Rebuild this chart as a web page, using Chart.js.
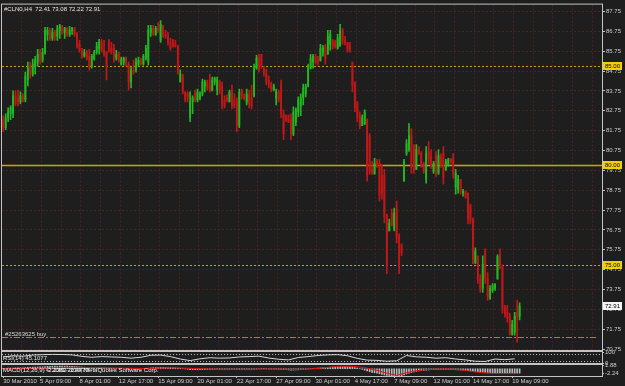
<!DOCTYPE html>
<html>
<head>
<meta charset="utf-8">
<script src="https://cdn.jsdelivr.net/npm/chart.js@4.4.0/dist/chart.umd.min.js"></script>
<style>
  html, body { margin: 0; padding: 0; background: #1e1e1e; }
  #wrap { position: relative; width: 625px; height: 386px; overflow: hidden; background: #1e1e1e; }
  #wrap canvas { position: absolute; left: 0; top: 0; }
</style>
</head>
<body>
<div id="wrap">
  <canvas id="priceChart" width="625" height="386"></canvas>
  <canvas id="rsiChart" width="625" height="386"></canvas>
  <canvas id="macdChart" width="625" height="386"></canvas>
</div>
<script>
// #CLN0 H4 bars, oldest first
const opens = [
  82.3,81.9,82.4,82.6,82.6,83.5,83.4,83.2,83.5,83.3, 84.3,85.0,84.6,85.0,85.2,85.7,85.3,85.7,86.6,86.8,
  86.4,86.7,86.5,86.8,87.0,86.7,86.9,86.6,86.8,86.9, 86.6,86.1,85.8,85.5,85.7,85.5,85.0,85.4,85.7,85.9,
  86.2,85.8,85.7,86.3,85.9,85.9,85.4,85.6,85.1,85.2, 85.4,85.1,84.2,84.8,84.8,85.1,85.3,85.1,85.4,85.2,
  86.7,86.9,86.6,86.9,86.3,87.0,86.6,86.5,86.2,86.3, 86.1,86.0,84.2,84.5,83.7,83.6,82.4,83.2,83.6,83.3,
  83.4,83.6,84.0,84.2,84.0,83.8,84.2,83.8,84.2,84.0, 83.3,83.4,83.2,83.8,83.3,83.3,82.0,83.8,83.5,83.2,
  83.6,83.4,83.5,84.9,85.4,85.6,84.9,84.6,84.3,84.1, 83.8,83.4,83.7,84.1,82.6,82.5,82.5,82.3,81.6,82.2,
  82.7,83.0,83.4,83.6,84.0,84.9,85.2,85.5,85.3,85.3, 85.7,86.0,85.6,86.1,86.3,86.2,85.9,86.0,86.8,86.3,
  86.2,86.0,85.2,84.2,83.2,82.5,82.0,82.1,82.3,81.5, 79.8,79.6,80.2,80.1,79.5,79.5,77.5,76.7,77.6,76.8,
  77.8,76.5,76.0,79.2,80.6,80.8,81.5,80.9,79.8,80.9, 80.6,80.1,79.3,80.7,80.4,79.7,80.5,79.6,80.4,80.6,
  79.8,80.0,80.3,80.3,78.9,78.8,79.3,78.6,78.7,78.6, 78.0,77.3,75.1,75.4,74.3,73.8,75.7,74.3,73.3,73.7,
  73.8,74.3,75.5,74.9,72.9,72.6,72.4,71.5,71.6,72.6, 72.41
];
const highs = [
  82.5,82.6,82.9,83.0,83.75,83.75,83.8,83.7,83.6,84.7, 85.2,85.2,85.35,85.5,85.85,85.85,85.9,86.95,86.95,86.9,
  86.9,86.8,87.05,87.1,87.05,86.95,86.95,87.0,86.95,86.95, 86.7,86.3,85.9,85.85,85.8,85.85,85.6,85.8,86.2,86.35,
  86.35,86.3,85.75,86.35,86.2,86.1,85.8,85.7,85.45,85.45, 85.45,85.2,85.0,85.3,85.4,85.45,85.4,85.6,86.05,87.05,
  87.05,87.05,87.0,87.2,87.3,87.05,86.8,86.7,86.4,86.35, 86.3,86.05,84.8,84.6,83.7,83.7,83.7,83.5,83.8,83.85,
  83.7,84.35,84.3,84.3,84.6,84.45,84.45,84.45,84.3,84.2, 83.5,83.55,83.8,84.05,83.6,83.4,83.85,83.85,83.6,83.85,
  83.8,84.05,85.1,85.55,85.6,85.6,85.0,84.85,84.5,84.2, 84.1,83.85,83.8,84.3,82.8,82.55,82.55,82.6,82.95,82.9,
  83.45,83.6,84.1,84.1,85.1,85.6,85.6,85.6,85.5,86.1, 86.05,86.1,86.8,86.8,86.35,86.3,86.6,87.1,86.9,86.5,
  86.2,86.2,85.2,84.2,83.2,82.7,82.55,82.8,82.35,81.6, 80.2,80.35,80.3,80.3,80.05,79.8,77.55,77.3,77.8,77.85,
  78.2,76.55,76.05,80.3,81.3,82.1,81.85,81.05,81.05,80.95, 80.7,80.15,80.95,81.2,80.8,80.2,80.7,80.8,80.6,80.95,
  80.3,80.35,80.35,80.6,79.8,79.5,79.3,78.8,78.7,78.6, 78.05,77.35,75.85,75.45,74.5,75.45,75.8,74.6,73.95,74.05,
  74.05,75.5,75.8,75.0,72.95,72.95,72.55,72.2,72.6,73.2, 73.08
];
const lows = [
  81.7,81.8,82.2,82.3,82.4,83.0,83.0,83.1,83.2,83.2, 84.0,84.4,84.5,84.6,85.0,85.1,85.2,85.6,86.3,86.3,
  86.3,86.3,86.3,86.4,86.6,86.4,86.5,86.5,86.6,86.5, 85.9,85.7,85.4,85.45,85.3,84.8,84.9,85.3,85.6,85.6,
  85.7,85.5,84.3,85.7,85.6,85.2,85.3,85.2,85.05,85.05, 85.0,83.8,83.9,84.6,84.7,85.0,85.05,85.05,85.3,85.05,
  86.5,86.55,86.55,86.7,86.2,86.45,86.4,86.05,85.8,85.95, 85.95,84.6,84.2,83.6,83.2,83.2,82.2,82.6,83.2,83.2,
  83.3,83.5,83.7,83.8,83.7,83.75,84.05,83.55,83.6,82.85, 82.9,83.2,83.2,82.85,82.9,81.7,81.9,83.35,83.3,83.05,
  82.9,82.85,83.45,84.85,84.7,84.9,84.5,84.05,83.9,83.7, 83.75,83.05,83.2,82.4,81.3,82.2,82.15,81.3,81.5,82.0,
  82.45,82.5,83.05,83.45,83.95,84.85,84.9,85.1,85.05,85.25, 85.5,85.1,85.6,85.8,85.85,85.9,85.85,86.0,86.1,86.05,
  85.7,85.7,83.7,82.7,82.2,81.85,82.0,82.05,79.2,79.55, 79.55,79.55,79.9,78.2,78.3,77.1,74.55,76.7,76.95,76.7,
  76.1,74.55,75.45,79.2,80.5,80.7,79.6,79.6,79.8,80.55, 79.9,79.6,79.1,80.1,79.85,79.6,79.45,79.55,79.9,79.05,
  79.75,79.95,80.1,79.35,78.55,78.6,78.55,78.45,78.35,77.05, 77.05,75.05,75.05,74.05,73.6,73.6,74.05,73.2,73.25,73.6,
  73.7,74.25,74.8,72.55,72.35,72.1,71.45,71.45,71.45,71.1, 72.22
];
const closes = [
  81.9,82.4,82.7,82.9,83.5,83.1,83.2,83.5,83.3,84.5, 84.9,84.6,85.1,85.3,85.6,85.3,85.7,86.8,86.8,86.4,
  86.7,86.5,86.9,87.0,86.7,86.9,86.6,86.8,86.9,86.6, 86.0,85.8,85.5,85.7,85.4,85.0,85.5,85.7,86.0,86.2,
  85.8,85.6,85.0,85.8,85.7,85.4,85.6,85.3,85.35,85.4, 85.1,84.2,84.8,84.7,85.2,85.3,85.1,85.5,85.9,86.8,
  86.9,86.6,86.9,86.8,87.1,86.6,86.5,86.2,85.9,86.0, 86.0,84.8,84.6,83.7,83.3,83.4,83.2,83.4,83.3,83.7,
  83.6,84.2,84.2,83.9,83.8,84.3,84.4,84.3,83.8,83.1, 83.0,83.3,83.7,83.0,83.0,82.0,83.7,83.5,83.4,83.6,
  83.1,83.0,84.9,85.4,84.8,85.0,84.6,84.2,84.1,83.8, 84.0,83.7,83.3,82.6,81.6,82.3,82.2,81.6,82.7,82.8,
  83.3,83.4,83.9,84.0,84.9,85.4,85.5,85.2,85.2,85.9, 85.9,85.4,86.5,86.6,86.0,86.0,86.4,86.8,86.3,86.2,
  85.8,85.8,84.0,82.9,82.4,82.0,82.4,82.7,79.5,79.7, 79.6,80.1,80.0,78.5,78.6,77.4,74.9,77.1,77.0,77.6,
  76.4,74.8,75.6,80.2,81.1,81.5,79.9,79.8,80.8,80.6, 80.0,79.7,80.6,80.3,80.0,80.1,79.7,80.5,80.0,79.4,
  80.2,80.3,80.15,79.6,79.6,79.3,78.7,78.7,78.4,77.3, 77.2,75.3,75.7,74.3,73.8,75.0,74.3,73.4,73.8,73.95,
  74.0,75.4,75.0,72.8,72.5,72.3,71.6,72.0,72.4,72.4, 72.91
];

const priceTicks = [87.75,86.75,85.75,84.75,83.75,82.75,81.75,80.75,79.75,78.75,77.75,76.75,75.75,74.75,73.75,72.75,71.75,70.75];
const timeLabels = ['30 Mar 2010','5 Apr 09:00','8 Apr 01:00','12 Apr 17:00','15 Apr 09:00','20 Apr 01:00','22 Apr 17:00',
  '27 Apr 09:00','30 Apr 01:00','4 May 17:00','7 May 09:00','12 May 01:00','14 May 17:00','19 May 09:00'];
const levelPrices = [85.00, 80.00, 75.00];
const orderPrice = 71.35;
const orderText = '#25263625 buy';

// RSI, one reading every 4th bar
const rsiValues = [55,66,62,72,76,78,77,74,60,52,58,55,52,44,52,70,72,58,36,22,38,48,44,46,55,58,62,45,34,28,
  50,58,68,74,76,66,42,26,24,16,20,68,56,52,44,48,36,28,16,14,36,30,38];
const rsiLevels = [80, 20];
const rsiLabels = ['100', '0'];

// MACD main (histogram), one value per bar
const macdValues = [
  0.2,0.25,0.3,0.35,0.4,0.45,0.45,0.5,0.5,0.6, 0.7,0.75,0.8,0.85,0.9,0.95,1.0,1.1,1.2,1.25,
  1.3,1.3,1.3,1.35,1.35,1.3,1.3,1.25,1.2,1.15, 1.05,0.95,0.85,0.75,0.65,0.55,0.5,0.45,0.45,0.45,
  0.45,0.4,0.3,0.3,0.25,0.2,0.15,0.1,0.05,0.05, 0.0,-0.1,-0.1,-0.1,-0.1,-0.05,0.0,0.05,0.1,0.3,
  0.45,0.55,0.6,0.65,0.7,0.7,0.7,0.65,0.6,0.55, 0.5,0.35,0.2,0.05,-0.1,-0.25,-0.4,-0.45,-0.5,-0.5,
  -0.5,-0.45,-0.4,-0.35,-0.3,-0.3,-0.25,-0.25,-0.25,-0.3, -0.35,-0.35,-0.35,-0.35,-0.4,-0.45,-0.45,-0.4,-0.4,-0.4,
  -0.35,-0.35,-0.25,-0.1,0.0,0.05,0.05,0.0,-0.05,-0.1, -0.15,-0.2,-0.25,-0.3,-0.45,-0.5,-0.55,-0.65,-0.65,-0.6,
  -0.55,-0.45,-0.35,-0.25,-0.1,0.05,0.2,0.3,0.35,0.45, 0.55,0.6,0.7,0.8,0.85,0.9,0.95,1.0,1.05,1.05,
  1.0,0.95,0.8,0.6,0.4,0.05,-0.3,-0.7,-1.1,-1.5, -1.8,-2.0,-2.2,-2.5,-2.8,-3.1,-3.3,-3.4,-3.5,-3.5,
  -3.5,-3.5,-3.4,-3.0,-2.6,-2.2,-1.9,-1.6,-1.3,-1.1, -0.9,-0.8,-0.7,-0.6,-0.5,-0.45,-0.4,-0.4,-0.35,-0.35,
  -0.35,-0.35,-0.4,-0.45,-0.5,-0.55,-0.6,-0.7,-0.8,-0.9, -1.0,-1.15,-1.3,-1.45,-1.6,-1.7,-1.8,-1.9,-2.0,-2.05,
  -2.1,-2.1,-2.1,-2.15,-2.2,-2.2,-2.25,-2.25,-2.25,-2.25, -2.2
];
// MACD signal, one reading every 4th bar
const signalValues = [0.0,0.05,0.1,0.2,0.3,0.45,0.6,0.7,0.7,0.65,0.55,0.45,0.35,0.25,0.15,0.2,0.35,0.45,0.4,0.2,
  0.0,-0.15,-0.25,-0.3,-0.3,-0.3,-0.2,-0.15,-0.2,-0.3,-0.35,-0.2,0.2,0.7,1.2,1.3,1.0,0.3,-0.8,-2.2,
  -3.3,-2.0,-1.0,-0.4,-0.2,-0.1,-0.3,-0.8,-1.6,-2.1,-2.35,-2.4,-2.45];
const macdLabels = ['1.88', '-2.24'];

const SLOTS = 244;      // bar slots across the window
const SAMPLE = 4;       // bars between rsi / signal readings
const GRID = '#4a2222';
const FRAME = '#c4c4c4';
const TEXT = '#cfcfcf';
const UP = '#22b822';
const DOWN = '#c01818';
const LEVEL = '#c9a40a';
const levelDash = [[2, 2], [], [2, 2]];
const levelWidth = [1, 1.5, 1];

Chart.defaults.font.family = 'Liberation Sans';
Chart.defaults.font.size = 6;
Chart.defaults.color = TEXT;

const common = {
  responsive: false,
  devicePixelRatio: 1,
  animation: false,
  events: [],
  plugins: { legend: { display: false }, tooltip: { enabled: false } }
};
const rightAxisWidth = s => { s.width = 23; };
const xRange = { type: 'linear', min: -0.5, max: SLOTS - 0.5, offset: false };

const frame = {
  id: 'frame',
  afterDraw(chart) {
    const { ctx, chartArea: a } = chart;
    ctx.save();
    ctx.strokeStyle = FRAME;
    ctx.lineWidth = 1;
    ctx.strokeRect(a.left - 0.5, a.top - 0.5, a.right - a.left + 1, a.bottom - a.top + 1);
    ctx.restore();
  }
};

const color = i => closes[i] >= opens[i] ? UP : DOWN;

// ---------- price window ----------
const mainDecor = {
  id: 'mainDecor',
  beforeDatasetsDraw(chart) {
    const { ctx, chartArea: a, scales: { y } } = chart;
    ctx.save();
    levelPrices.forEach((p, k) => {
      const py = Math.round(y.getPixelForValue(p)) + 0.5;
      ctx.strokeStyle = LEVEL;
      ctx.lineWidth = levelWidth[k];
      ctx.setLineDash(levelDash[k]);
      ctx.beginPath(); ctx.moveTo(a.left, py); ctx.lineTo(a.right, py); ctx.stroke();
    });
    const oy = Math.round(y.getPixelForValue(orderPrice)) + 0.5;
    ctx.strokeStyle = '#9c8a22';
    ctx.lineWidth = 1;
    ctx.setLineDash([6, 2, 2, 2]);
    ctx.beginPath(); ctx.moveTo(a.left, oy); ctx.lineTo(a.right - 4, oy); ctx.stroke();
    ctx.setLineDash([]);
    ctx.fillStyle = '#d8d8d8';
    ctx.textBaseline = 'alphabetic';
    ctx.font = '6px "Liberation Sans"';
    ctx.fillText(orderText, a.left + 3, oy - 2);
    ctx.restore();
  },
  afterDraw(chart) {
    const { ctx, chartArea: a, scales: { y } } = chart;
    const last = closes.length - 1;
    ctx.save();
    ctx.font = '6px "Liberation Sans"';
    ctx.textBaseline = 'middle';
    const tag = (price, fill, ink) => {
      const py = Math.round(y.getPixelForValue(price));
      ctx.fillStyle = fill;
      ctx.fillRect(a.right + 1, py - 4, 19, 8);
      ctx.fillStyle = ink;
      ctx.fillText(price.toFixed(2), a.right + 3, py + 0.5);
    };
    levelPrices.forEach(p => tag(p, '#f2d000', '#000000'));
    tag(closes[last], '#f4f4f4', '#000000');
    ctx.fillStyle = '#e6e6e6';
    ctx.fillText('#CLN0,H4  ' + [opens[last], highs[last], lows[last], closes[last]].map(v => v.toFixed(2)).join(' '), a.left + 2, a.top + 5);
    ctx.restore();
  }
};

new Chart(document.getElementById('priceChart'), {
  type: 'bar',
  data: {
    datasets: [
      {
        data: highs.map((h, i) => ({ x: i, y: [lows[i], h] })),
        backgroundColor: ctx => color(ctx.dataIndex),
        barThickness: 1, grouped: false, order: 2
      },
      {
        data: opens.map((o, i) => ({ x: i, y: [o, closes[i]] })),
        backgroundColor: ctx => color(ctx.dataIndex),
        barThickness: 1.2, grouped: false, minBarLength: 1, order: 1
      }
    ]
  },
  options: {
    ...common,
    layout: { autoPadding: false, padding: { left: 2, top: 2, right: 0, bottom: 36 } },
    scales: {
      x: {
        ...xRange,
        afterBuildTicks: s => {
          const t = [];
          for (let b = 7.5; b < SLOTS; b += 8) t.push({ value: b });
          s.ticks = t;
        },
        afterFit: s => { s.height = 0; },
        ticks: { display: false },
        grid: { color: GRID, drawTicks: false, offset: false },
        border: { display: false, dash: [2, 2] }
      },
      y: {
        position: 'right', min: 70.7, max: 88.1,
        afterBuildTicks: s => { s.ticks = priceTicks.map(v => ({ value: v })); },
        afterFit: rightAxisWidth,
        ticks: { padding: 1, autoSkip: false, callback: v => v.toFixed(2) },
        grid: { color: GRID, tickColor: FRAME, tickLength: 3 },
        border: { display: false, dash: [2, 2] }
      }
    }
  },
  plugins: [mainDecor, frame]
});

// ---------- RSI window ----------
const rsiDecor = {
  id: 'rsiDecor',
  beforeDatasetsDraw(chart) {
    const { ctx, chartArea: a, scales: { y } } = chart;
    ctx.save();
    ctx.strokeStyle = '#bdbdbd';
    ctx.lineWidth = 1;
    ctx.setLineDash([1, 2]);
    rsiLevels.forEach(v => {
      const py = Math.round(y.getPixelForValue(v)) + 0.5;
      ctx.beginPath(); ctx.moveTo(a.left, py); ctx.lineTo(a.right, py); ctx.stroke();
    });
    ctx.restore();
  },
  afterDraw(chart) {
    const { ctx, chartArea: a } = chart;
    ctx.save();
    ctx.font = '6px "Liberation Sans"';
    ctx.fillStyle = '#e0e0e0';
    ctx.textBaseline = 'alphabetic';
    ctx.fillText('RSI(14) 45.1077', a.left + 1, a.bottom - 3);
    ctx.restore();
  }
};

new Chart(document.getElementById('rsiChart'), {
  type: 'line',
  data: {
    datasets: [{
      data: rsiValues.map((v, k) => ({ x: k * SAMPLE, y: v })),
      borderColor: '#d6d6d6', borderWidth: 1, pointRadius: 0, tension: 0
    }]
  },
  options: {
    ...common,
    layout: { autoPadding: false, padding: { left: 2, top: 352, right: 0, bottom: 23 } },
    scales: {
      x: { ...xRange, display: false },
      y: {
        position: 'right', min: 0, max: 100,
        afterBuildTicks: s => { s.ticks = [{ value: 100 }, { value: 0 }]; },
        afterFit: rightAxisWidth,
        ticks: { padding: 1, autoSkip: false, callback: (v, i) => rsiLabels[i] },
        grid: { drawOnChartArea: false, tickColor: FRAME, tickLength: 2 },
        border: { display: false }
      }
    }
  },
  plugins: [rsiDecor, frame]
});

// ---------- MACD window ----------
const macdDecor = {
  id: 'macdDecor',
  afterDraw(chart) {
    const { ctx, chartArea: a } = chart;
    ctx.save();
    ctx.font = '6px "Liberation Sans"';
    ctx.fillStyle = '#f0f0f0';
    ctx.textBaseline = 'alphabetic';
    ctx.fillText('MACD(12,26,9) -2.2362 -2.4479', a.left + 1, a.top + 7);
    ctx.fillText('\u00a9 2001-2010, MetaQuotes Software Corp.', a.left + 44, a.top + 7);
    ctx.restore();
  }
};

new Chart(document.getElementById('macdChart'), {
  type: 'bar',
  data: {
    datasets: [
      {
        type: 'line',
        data: signalValues.map((v, k) => ({ x: k * SAMPLE, y: v })),
        borderColor: '#e01010', borderWidth: 1, pointRadius: 0, tension: 0, order: 1
      },
      {
        data: macdValues.map((v, i) => ({ x: i, y: v })),
        backgroundColor: '#b8b8b8', barThickness: 1, order: 2
      }
    ]
  },
  options: {
    ...common,
    layout: { autoPadding: false, padding: { left: 2, top: 365, right: 0, bottom: 0 } },
    scales: {
      x: {
        ...xRange,
        afterBuildTicks: s => {
          const t = [{ value: 0 }];
          for (let b = 15; b < SLOTS && t.length < timeLabels.length; b += 16) t.push({ value: b });
          s.ticks = t;
        },
        afterFit: s => { s.height = 10; },
        ticks: { align: 'start', padding: 0, autoSkip: false, maxRotation: 0, minRotation: 0,
                 callback: (v, i) => timeLabels[i] },
        grid: { drawOnChartArea: false, tickColor: FRAME, tickLength: 2, offset: false },
        border: { display: false }
      },
      y: {
        position: 'right', min: -3.6, max: 1.88,
        afterBuildTicks: s => { s.ticks = [{ value: 1.88 }, { value: -2.24 }]; },
        afterFit: rightAxisWidth,
        ticks: { padding: 1, autoSkip: false, callback: (v, i) => macdLabels[i] },
        grid: { drawOnChartArea: false, tickColor: FRAME, tickLength: 2 },
        border: { display: false }
      }
    }
  },
  plugins: [macdDecor, frame]
});
</script>
</body>
</html>
